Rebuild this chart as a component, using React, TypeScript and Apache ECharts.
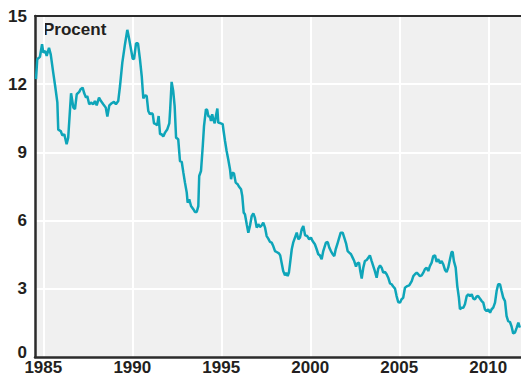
import React, { useEffect, useRef } from "react";
import * as echarts from "echarts";

// Time in decimal years
const years: number[] = [
  1984.59, 1984.66, 1984.81, 1984.93, 1985.0, 1985.11, 1985.19, 1985.32, 1985.42, 1985.56,
  1985.67, 1985.79, 1985.84, 1985.98, 1986.07, 1986.18, 1986.31, 1986.4, 1986.56, 1986.69,
  1986.78, 1986.88, 1987.02, 1987.1, 1987.21, 1987.3, 1987.4, 1987.47, 1987.58, 1987.68,
  1987.81, 1987.9, 1988.0, 1988.13, 1988.24, 1988.37, 1988.51, 1988.6, 1988.71, 1988.84,
  1988.97, 1989.08, 1989.21, 1989.31, 1989.44, 1989.59, 1989.72, 1989.81, 1990.02, 1990.1,
  1990.21, 1990.32, 1990.43, 1990.53, 1990.62, 1990.71, 1990.81, 1990.9, 1990.99, 1991.09,
  1991.15, 1991.22, 1991.33, 1991.4, 1991.48, 1991.56, 1991.65, 1991.74, 1991.84, 1991.97,
  1992.08, 1992.13, 1992.21, 1992.3, 1992.38, 1992.46, 1992.58, 1992.68, 1992.78, 1992.87,
  1992.96, 1993.06, 1993.11, 1993.2, 1993.3, 1993.43, 1993.52, 1993.62, 1993.71, 1993.76,
  1993.86, 1993.96, 1994.03, 1994.14, 1994.21, 1994.27, 1994.37, 1994.42, 1994.49, 1994.55,
  1994.63, 1994.7, 1994.78, 1994.83, 1994.97, 1995.08, 1995.13, 1995.21, 1995.3, 1995.39,
  1995.49, 1995.55, 1995.62, 1995.71, 1995.81, 1995.92, 1995.99, 1996.11, 1996.18, 1996.26,
  1996.33, 1996.43, 1996.52, 1996.61, 1996.71, 1996.8, 1996.89, 1996.99, 1997.08, 1997.17,
  1997.27, 1997.36, 1997.46, 1997.55, 1997.64, 1997.74, 1997.83, 1997.92, 1998.02, 1998.11,
  1998.24, 1998.31, 1998.39, 1998.48, 1998.58, 1998.65, 1998.73, 1998.8, 1998.88, 1998.96,
  1999.04, 1999.14, 1999.24, 1999.33, 1999.42, 1999.52, 1999.61, 1999.71, 1999.83, 1999.94,
  2000.04, 2000.13, 2000.26, 2000.36, 2000.45, 2000.54, 2000.64, 2000.73, 2000.88, 2000.98,
  2001.07, 2001.16, 2001.26, 2001.35, 2001.43, 2001.52, 2001.61, 2001.71, 2001.82, 2001.91,
  2002.01, 2002.1, 2002.19, 2002.29, 2002.38, 2002.47, 2002.57, 2002.64, 2002.74, 2002.81,
  2002.89, 2002.98, 2003.07, 2003.17, 2003.26, 2003.35, 2003.45, 2003.54, 2003.63, 2003.73,
  2003.82, 2003.92, 2004.01, 2004.1, 2004.2, 2004.29, 2004.38, 2004.48, 2004.57, 2004.66,
  2004.76, 2004.85, 2004.94, 2005.04, 2005.13, 2005.22, 2005.32, 2005.45, 2005.56, 2005.7,
  2005.79, 2005.88, 2005.98, 2006.07, 2006.16, 2006.26, 2006.35, 2006.44, 2006.54, 2006.63,
  2006.72, 2006.82, 2006.91, 2007.01, 2007.1, 2007.19, 2007.29, 2007.38, 2007.47, 2007.57,
  2007.66, 2007.75, 2007.85, 2007.94, 2008.0, 2008.07, 2008.17, 2008.26, 2008.35, 2008.41,
  2008.51, 2008.6, 2008.69, 2008.79, 2008.88, 2008.97, 2009.07, 2009.16, 2009.25, 2009.35,
  2009.44, 2009.53, 2009.63, 2009.72, 2009.81, 2009.91, 2010.0, 2010.1, 2010.19, 2010.28,
  2010.38, 2010.47, 2010.56, 2010.66, 2010.75, 2010.84, 2010.94, 2011.03, 2011.12, 2011.22,
  2011.31, 2011.4, 2011.5, 2011.6, 2011.69, 2011.78,
];

// Interest rate, percent
const rates: number[] = [
  12.22, 13.1, 13.2, 13.76, 13.39, 13.46, 13.24, 13.6, 13.3, 12.5,
  11.9, 11.2, 10.0, 9.94, 9.75, 9.8, 9.36, 9.65, 11.6, 10.97,
  10.9, 11.56, 11.66, 11.78, 11.85, 11.6, 11.41, 11.48, 11.12, 11.19,
  11.12, 11.26, 11.07, 11.41, 11.26, 11.12, 10.97, 10.58, 11.07, 11.16,
  11.22, 11.12, 11.26, 11.92, 12.95, 13.76, 14.39, 14.05, 13.13, 13.1,
  13.8, 13.8, 13.1, 12.36, 11.37, 11.51, 11.48, 10.82, 10.68, 10.72,
  10.68, 10.28, 10.24, 10.19, 10.6, 9.8, 9.8, 9.7, 9.87, 10.02,
  10.28, 10.9, 12.1, 11.7, 11.04, 9.65, 9.58, 8.62, 8.58, 8.11,
  7.67, 7.23, 6.79, 6.94, 6.64, 6.5, 6.38, 6.38, 6.64, 7.96,
  8.18, 9.28, 10.16, 10.9, 10.86, 10.6, 10.56, 10.38, 10.68, 10.46,
  10.28, 10.6, 10.93, 10.31, 10.28, 10.24, 9.94, 9.5, 9.06, 8.7,
  8.26, 7.82, 8.11, 8.08, 7.67, 7.6, 7.5, 7.38, 7.08, 6.35,
  6.28, 5.84, 5.47, 5.76, 6.2, 6.32, 6.13, 5.69, 5.84, 5.72,
  5.79, 5.91, 5.69, 5.32, 5.21, 5.06, 5.03, 4.88, 4.66, 4.62,
  4.56, 4.47, 4.15, 3.78, 3.59, 3.71, 3.56, 3.71, 4.22, 4.74,
  5.03, 5.25, 5.47, 5.18, 5.25, 5.62, 5.76, 5.35, 5.32, 5.18,
  5.25, 5.1, 4.96, 4.74, 4.52, 4.47, 4.3, 4.66, 5.03, 5.06,
  4.81, 4.66, 4.52, 4.44, 4.74, 4.96, 5.21, 5.47, 5.47, 5.25,
  5.0, 4.66, 4.59, 4.52, 4.37, 4.22, 3.98, 4.12, 4.15, 3.78,
  3.45, 3.93, 4.22, 4.27, 4.37, 4.47, 4.22, 4.0, 3.78, 3.49,
  3.89, 4.03, 3.93, 3.71, 3.74, 3.64, 3.49, 3.24, 3.2, 3.1,
  3.01, 2.68, 2.42, 2.39, 2.54, 2.6, 3.05, 3.12, 3.15, 3.34,
  3.56, 3.64, 3.71, 3.64, 3.56, 3.59, 3.71, 3.86, 3.93, 3.78,
  4.0, 4.15, 4.44, 4.47, 4.18, 4.3, 4.12, 4.22, 4.08, 3.83,
  3.74, 3.93, 4.3, 4.62, 4.62, 4.22, 3.93, 3.12, 2.61, 2.1,
  2.17, 2.17, 2.32, 2.68, 2.76, 2.68, 2.76, 2.57, 2.54, 2.66,
  2.68, 2.57, 2.46, 2.39, 2.1, 2.02, 2.1, 1.95, 2.1, 2.17,
  2.39, 2.9, 3.2, 3.2, 2.9, 2.61, 2.46, 1.8, 1.58, 1.54,
  1.34, 1.04, 1.07, 1.29, 1.51, 1.29,
];

const yAxisLabel = "Procent";

export default function App() {
  const ref = useRef<HTMLDivElement>(null);
  useEffect(() => {
    if (!ref.current) return;
    const chart = echarts.init(ref.current, undefined, { renderer: "svg" });
    const textColor = "#231f20";
    const axisColor = "#2b2b2b";
    const font = "'Liberation Sans', Arial, Helvetica, sans-serif";
    const xMin = 1984.534;
    const xMax = 2011.84;
    const labelStyle = {
      fontSize: 17,
      fontWeight: "bold",
      fontFamily: font,
      color: textColor,
    };
    chart.setOption({
      animation: false,
      backgroundColor: "#ffffff",
      grid: {
        left: 35,
        right: 0,
        top: 16,
        bottom: 18,
        show: true,
        backgroundColor: "#f0f0f0",
        borderWidth: 0,
      },
      xAxis: [
        {
          type: "value",
          min: xMin,
          max: xMax,
          splitNumber: 5,
          axisLine: { show: true, onZero: false, lineStyle: { color: axisColor, width: 2.5 } },
          axisTick: { show: false },
          axisLabel: {
            show: true,
            showMinLabel: false,
            showMaxLabel: false,
            margin: 2,
            ...labelStyle,
            formatter: (v: number) => (Math.abs(v % 5) < 1e-6 ? String(Math.round(v)) : ""),
          },
          splitLine: {
            show: true,
            showMinLine: false,
            showMaxLine: false,
            lineStyle: { color: "#ffffff", width: 2 },
          },
        },
        {
          type: "value",
          position: "top",
          min: xMin,
          max: xMax,
          axisLine: { show: true, onZero: false, lineStyle: { color: axisColor, width: 2 } },
          axisTick: { show: false },
          axisLabel: { show: false },
          splitLine: { show: false },
        },
      ],
      yAxis: {
        type: "value",
        min: 0,
        max: 15,
        interval: 3,
        axisLine: { show: true, onZero: false, lineStyle: { color: axisColor, width: 2.5 } },
        axisTick: { show: false },
        axisLabel: {
          margin: 8,
          ...labelStyle,
          formatter: (v: number) => (v === 0 ? "{z|0}" : String(v)),
          rich: {
            z: { ...labelStyle, padding: [0, 0, 9, 0] },
          },
        },
        splitLine: {
          show: true,
          showMinLine: false,
          showMaxLine: false,
          lineStyle: { color: "#ffffff", width: 2 },
        },
      },
      graphic: [
        {
          type: "text",
          left: 43,
          top: 21,
          style: {
            text: yAxisLabel,
            fontSize: 17,
            fontWeight: "bold",
            fontFamily: font,
            fill: textColor,
          },
        },
      ],
      series: [
        {
          type: "line",
          xAxisIndex: 0,
          data: years.map((y, i) => [y, rates[i]]),
          showSymbol: false,
          symbol: "none",
          lineStyle: { color: "#0ea5b9", width: 2.5 },
          z: 3,
        },
      ],
    });
    return () => chart.dispose();
  }, []);
  return <div ref={ref} style={{ width: 521, height: 376, position: "absolute", left: 0, top: 0 }} />;
}
